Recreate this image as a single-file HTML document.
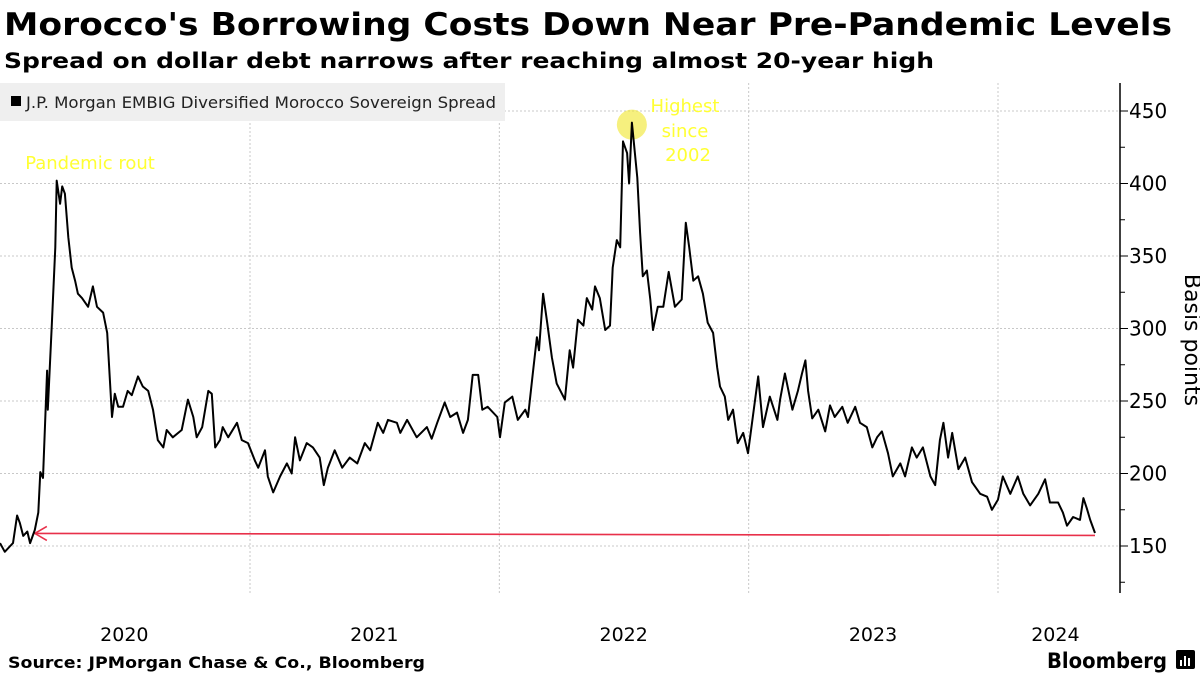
<!DOCTYPE html>
<html><head><meta charset="utf-8"><style>
html,body{margin:0;padding:0;background:#fff;}
svg{display:block;font-family:"DejaVu Sans","Liberation Sans",sans-serif;}
</style></head><body>
<svg id="chart" width="1200" height="675" viewBox="0 0 1200 675">
<text x="4" y="35" font-size="31" font-weight="bold" fill="#000" textLength="1168" lengthAdjust="spacingAndGlyphs">Morocco's Borrowing Costs Down Near Pre-Pandemic Levels</text>
<text x="4" y="68" font-size="21" font-weight="bold" fill="#000" textLength="930" lengthAdjust="spacingAndGlyphs">Spread on dollar debt narrows after reaching almost 20-year high</text>
<g id="grid"></g>
<g>
<rect x="0" y="83" width="505" height="38" fill="#efefef"/>
<rect x="11" y="96" width="10" height="10" fill="#000"/>
<text x="26" y="108" font-size="16" fill="#222" textLength="470" lengthAdjust="spacingAndGlyphs">J.P. Morgan EMBIG Diversified Morocco Sovereign Spread</text>
</g>
<g id="axis"></g>
<g id="xaxis"></g>
<g id="series"></g>
<text x="1185" y="340" font-size="22" fill="#000" text-anchor="middle" transform="rotate(90 1185 340)">Basis points</text>
<text x="90" y="169" font-size="18" fill="#ffff33" text-anchor="middle">Pandemic rout</text>
<g>
<text x="685" y="112" font-size="18" fill="#ffff33" text-anchor="middle">Highest</text>
<text x="685" y="137" font-size="18" fill="#ffff33" text-anchor="middle">since</text>
<text x="688" y="161" font-size="18" fill="#ffff33" text-anchor="middle">2002</text>
</g>
<text x="8" y="668" font-size="16" font-weight="bold" fill="#000" textLength="417" lengthAdjust="spacingAndGlyphs">Source: JPMorgan Chase &amp; Co., Bloomberg</text>
<text x="1047" y="668" font-size="21" font-weight="bold" fill="#000" textLength="120" lengthAdjust="spacingAndGlyphs">Bloomberg</text>
<g>
<rect x="1176" y="650" width="19" height="19" rx="2" fill="#000"/>
<rect x="1180" y="660" width="2" height="6" fill="#fff"/><rect x="1184" y="656" width="2" height="10" fill="#fff"/><rect x="1188" y="658" width="2" height="8" fill="#fff"/>
</g>
</svg>
<script>
const days = [0,7,15,19,25,29,34,40,44,51,56,59,63,69,70,76,81,83,88,91,95,100,105,110,114,120,129,136,142,151,157,164,168,173,180,187,193,202,209,217,224,231,239,244,253,266,275,283,288,296,305,310,315,322,326,334,347,354,363,373,378,388,392,400,410,420,427,432,439,449,458,468,474,480,490,501,512,523,534,542,553,561,568,581,586,596,610,625,632,640,651,659,669,678,685,692,700,706,714,728,732,739,750,758,769,773,780,786,789,795,801,808,815,827,834,839,846,854,859,867,871,878,886,893,897,903,908,912,918,921,925,933,937,941,947,952,956,963,971,979,988,998,1004,1009,1015,1022,1029,1036,1044,1050,1054,1061,1066,1073,1080,1088,1095,1102,1110,1117,1127,1138,1142,1149,1160,1168,1174,1179,1183,1189,1198,1208,1215,1222,1233,1241,1252,1259,1269,1277,1284,1291,1300,1307,1318,1325,1335,1342,1351,1362,1369,1376,1381,1388,1394,1403,1413,1423,1435,1445,1452,1461,1468,1479,1490,1498,1508,1520,1530,1537,1549,1556,1562,1571,1581,1586,1591,1596,1603];
const spreads = [152,146,150,152,171,166,157,160,152,161,173,201,197,271,244,304,356,402,386,398,393,363,342,333,324,321,315,329,315,311,297,239,255,246,246,257,254,267,260,257,244,223,218,230,225,230,251,239,225,232,257,255,218,223,232,225,235,223,221,209,204,216,198,187,198,207,200,225,209,221,218,211,192,204,216,204,211,207,221,216,235,228,237,235,228,237,225,232,224,235,249,239,242,228,237,268,268,244,246,239,225,249,253,237,244,239,269,294,285,324,304,280,262,251,285,273,306,302,321,313,329,321,299,302,342,361,356,429,421,400,442,404,366,336,340,320,299,315,315,339,315,320,373,356,333,336,324,304,297,273,260,253,237,244,221,228,214,239,267,232,253,237,251,269,244,257,269,278,257,238,244,229,247,239,246,235,246,235,232,218,225,229,214,198,207,198,218,211,218,198,192,223,235,211,228,203,211,194,186,184,175,182,198,186,198,186,178,186,196,180,180,173,164,170,168,183,176,168,159];
const yTicks = [150,200,250,300,350,400,450];
const yMinor = [125,175,225,275,325,375,425];
const xLabels = ["2020","2021","2022","2023","2024"];
const xLabelDays = [182,548,913,1278,1545];
const yearStartDays = [366,731,1096,1461];
const baselineValue = 158;
const baselineStartDay = 51;
const peakIndex = 130;

const NS="http://www.w3.org/2000/svg";
const plotRight=1120;
const X = d => d*249.5/365.25;
const Y = v => 546-(v-150)*1.45;
function mk(tag,attrs,parent){const e=document.createElementNS(NS,tag);for(const k in attrs)e.setAttribute(k,attrs[k]);parent.appendChild(e);return e;}
const grid=document.getElementById('grid'), axis=document.getElementById('axis'), xaxis=document.getElementById('xaxis'), series=document.getElementById('series');
yTicks.forEach(v=>{
  const g=mk('line',{x1:0,x2:plotRight,y1:Y(v),y2:Y(v),stroke:'#c8c8c8','stroke-dasharray':'2,2','stroke-width':1},grid);
  
  
  const t=mk('line',{x1:plotRight,x2:plotRight+8,y1:Y(v),y2:Y(v),stroke:'#000','stroke-width':1},axis);
  
  
  const l=mk('text',{x:plotRight+9,y:Y(v)+7,'font-size':20,fill:'#000'},axis);
  l.textContent=v;
  
  
});
yMinor.forEach(v=>{
  const t=mk('line',{x1:plotRight,x2:plotRight+5,y1:Y(v),y2:Y(v),stroke:'#000','stroke-width':1},axis);
  
  
});
const al=mk('line',{x1:plotRight,x2:plotRight,y1:83,y2:593,stroke:'#000','stroke-width':1.5},axis);


yearStartDays.forEach(d=>{
  const g=mk('line',{x1:X(d),x2:X(d),y1:83,y2:593,stroke:'#c8c8c8','stroke-dasharray':'2,2','stroke-width':1},grid);
  
  
});
xLabels.forEach((s,i)=>{
  const l=mk('text',{x:X(xLabelDays[i]),y:641,'font-size':19,fill:'#000','text-anchor':'middle'},xaxis);
  l.textContent=s;
  
  
});
const c=mk('circle',{cx:X(days[peakIndex]),cy:Y(spreads[peakIndex])+2,r:15,fill:'rgba(240,230,40,0.6)'},series);


const lastDay=days[days.length-1];
const rl=mk('line',{x1:X(baselineStartDay),x2:X(lastDay),y1:Y(baselineValue)-1,y2:Y(baselineValue)+1,stroke:'#e8304a','stroke-width':1.6},series);


const ax=X(baselineStartDay), ay=Y(baselineValue)-1;
const ar=mk('path',{d:`M${ax+12},${ay-7} L${ax},${ay} L${ax+12},${ay+7}`,fill:'none',stroke:'#e8304a','stroke-width':1.6},series);


const pts=days.map((d,i)=>`${X(d).toFixed(1)},${Y(spreads[i]).toFixed(1)}`).join(' ');
const pl=mk('polyline',{points:pts,fill:'none',stroke:'#000','stroke-width':2,'stroke-linejoin':'round'},series);


</script>
</body></html>
